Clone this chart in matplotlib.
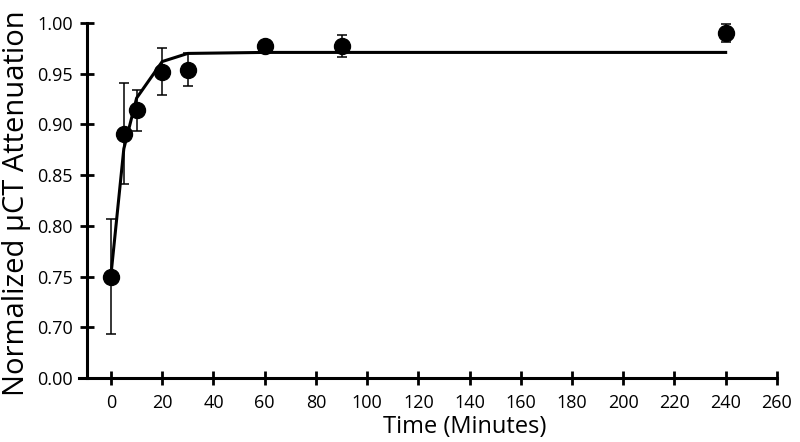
import matplotlib
matplotlib.use("Agg")
import matplotlib.pyplot as plt
import numpy as np

plt.rcParams['font.family'] = ['Open Sans', 'DejaVu Sans']

# measured points (minutes, normalized attenuation, error)
time_min = [0, 5, 10, 20, 30, 60, 90, 240]
attenuation = [0.750, 0.891, 0.914, 0.952, 0.954, 0.977, 0.977, 0.990]
att_err = [0.057, 0.050, 0.020, 0.023, 0.016, 0.004, 0.011, 0.009]

# fitted curve
fit_time = [0, 5, 10, 20, 30, 60, 90, 240]
fit_att = [0.752, 0.876, 0.926, 0.962, 0.970, 0.971, 0.971, 0.971]

# axis break: 0.00 is drawn one step below 0.70
ytick_pos = [0.65, 0.70, 0.75, 0.80, 0.85, 0.90, 0.95, 1.00]
ytick_lab = ['0.00', '0.70', '0.75', '0.80', '0.85', '0.90', '0.95', '1.00']
xticks = np.arange(0, 261, 20)

fig = plt.figure(figsize=(8, 4.42), dpi=100)
ax = fig.add_axes([79 / 800, 64 / 442, 703 / 800, 355 / 442])

ax.plot(fit_time, fit_att, color='black', lw=2.2, zorder=3)
ax.errorbar(time_min, attenuation, yerr=att_err, fmt='o', color='black',
            ms=11.5, elinewidth=1.1, capsize=3.5, capthick=1.1, zorder=4)

ax.set_xlim(-12.5, 262)
ax.set_ylim(0.65, 1.0)
ax.set_xticks(xticks)
ax.set_yticks(ytick_pos)
ax.set_yticklabels(ytick_lab)

for s in ['top', 'right']:
    ax.spines[s].set_visible(False)
ax.spines['left'].set_position(('data', -9.4))
ax.spines['left'].set_linewidth(2.2)
ax.spines['bottom'].set_linewidth(2.2)
ax.spines['bottom'].set_bounds(-12.5, 260)

ax.tick_params(direction='inout', length=9.4, width=2.0, labelsize=13)
ax.tick_params(axis='x', pad=7)
ax.tick_params(axis='y', pad=5.5)

ax.set_xlabel('Time (Minutes)', fontsize=17)
ax.xaxis.set_label_coords(0.548, -0.103)
ax.set_ylabel('Normalized µCT Attenuation', fontsize=21)
ax.yaxis.set_label_coords(-0.068, 0.493)

fig.savefig('out.png', dpi=100)
